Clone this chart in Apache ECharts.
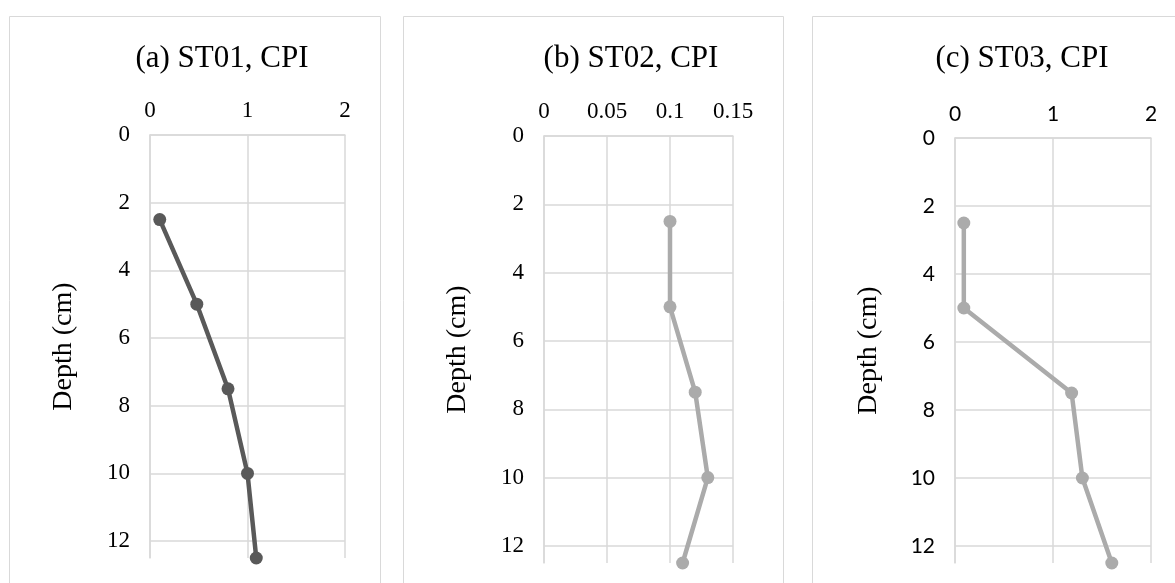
<!DOCTYPE html>
<html>
<head>
<meta charset="utf-8">
<script src="https://cdn.jsdelivr.net/npm/echarts@6/dist/echarts.min.js"></script>
<style>
  html, body { margin: 0; padding: 0; background: #fff; }
  #chart { width: 1175px; height: 583px; }
</style>
</head>
<body>
<div id="chart"></div>
<script>
  // depth of each sample (cm)
  const depth = [2.5, 5, 7.5, 10, 12.5];
  // CPI values per station
  const cpiST01 = [0.1, 0.48, 0.8, 1.0, 1.09];
  const cpiST02 = [0.1, 0.1, 0.12, 0.13, 0.11];
  const cpiST03 = [0.09, 0.09, 1.19, 1.3, 1.6];
  const titles = ['(a) ST01, CPI', '(b) ST02, CPI', '(c) ST03, CPI'];
  // x axis ranges [min, max, interval]
  const xRanges = [[0, 2, 1], [0, 0.15, 0.05], [0, 2, 1]];
  const yRange = [0, 12.5, 2];

  const grids = [
    {left: 150, top: 135, width: 195, height: 423},
    {left: 544, top: 136, width: 189, height: 427},
    {left: 955, top: 138, width: 196, height: 425}
  ];
  const titleX = [217, 626, 1017];
  const panels = [[9, 380], [403, 783], [812, 1200]];
  const lineColors = ['#595959', '#ababab', '#ababab'];
  const labelFonts = ['Liberation Serif', 'Liberation Serif', 'Lato'];
  const allData = [cpiST01, cpiST02, cpiST03];

  const gridCol = '#d9d9d9';
  let xAxes = [], yAxes = [], series = [], titleArr = [], graphics = [];

  for (let i = 0; i < 3; i++) {
    xAxes.push({
      type: 'value', gridIndex: i, position: 'top',
      min: xRanges[i][0], max: xRanges[i][1], interval: xRanges[i][2],
      axisLine: {show: true, lineStyle: {color: gridCol, width: 1.5}},
      axisTick: {show: false},
      axisLabel: {color: '#000', fontFamily: labelFonts[i], fontSize: i == 2 ? 21 : 23, margin: 13},
      splitLine: {show: true, lineStyle: {color: gridCol, width: 1.5}}
    });
    yAxes.push({
      type: 'value', gridIndex: i, inverse: true,
      min: yRange[0], max: yRange[1], interval: yRange[2],
      name: 'Depth (cm)', nameLocation: 'middle', nameGap: 72,
      nameTextStyle: {color: '#000', fontFamily: 'Liberation Serif', fontSize: 28},
      axisLine: {show: true, lineStyle: {color: gridCol, width: 1.5}},
      axisTick: {show: false},
      axisLabel: {color: '#000', fontFamily: labelFonts[i], fontSize: i == 2 ? 21 : 23, margin: 20, showMaxLabel: false},
      splitLine: {show: true, showMaxLine: false, lineStyle: {color: gridCol, width: 1.5}}
    });
    series.push({
      type: 'line', xAxisIndex: i, yAxisIndex: i,
      data: allData[i].map((v, j) => [v, depth[j]]),
      symbol: 'circle', symbolSize: 13,
      lineStyle: {color: lineColors[i], width: 4.5},
      itemStyle: {color: lineColors[i]},
      z: 5
    });
    titleArr.push({
      text: titles[i], left: titleX[i], top: 38, textAlign: 'center',
      textStyle: {fontFamily: 'Liberation Serif', fontWeight: 'normal', fontSize: 31, color: '#000'}
    });
    graphics.push({
      type: 'rect',
      shape: {x: panels[i][0] + 0.5, y: 16.5, width: panels[i][1] - panels[i][0], height: 620},
      style: {fill: null, stroke: gridCol, lineWidth: 1},
      silent: true
    });
  }

  let myChart = echarts.init(document.getElementById('chart'));
  myChart.setOption({
    animation: false,
    title: titleArr,
    grid: grids,
    xAxis: xAxes,
    yAxis: yAxes,
    series: series,
    graphic: graphics
  });
</script>
</body>
</html>
